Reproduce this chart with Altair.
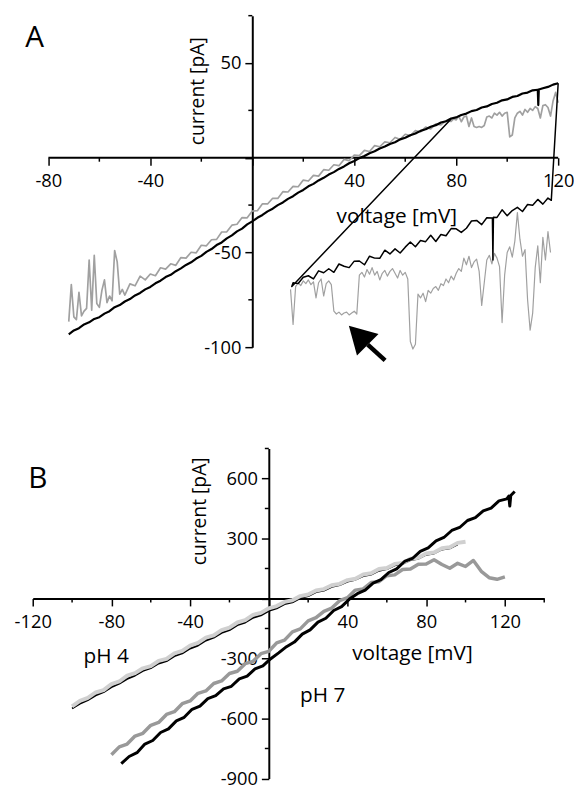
import altair as alt
import pandas as pd

FONT = "Open Sans"

# ======================= Panel A =======================
A_AXIS_X_RANGE = [-80, 120]        # extent of the drawn voltage axis
A_X_SCALE = [-86.134, 120]         # scale domain (a little room left of -80)
A_Y_DOMAIN = [-100, 75]
A_X_MAJOR = [-80, -40, 0, 40, 80, 120]
A_X_MINOR = [-60, -20, 20, 60, 100]
A_Y_MAJOR = [-100, -50, 0, 50]
A_Y_MINOR = [-75, -25, 25, 75]

# black trace, ramp upward
A_BLACK_UP_V = [-72, -70, -68, -66, -64, -62, -60, -58, -56, -54, -52, -50, -48, -46, -44, -42,
                -40, -38, -36, -34, -32, -30, -28, -26, -24, -22, -20, -18, -16, -14, -12, -10,
                -8, -6, -4, -2, 0, 2, 4, 6, 8, 10, 12, 14, 16, 18, 20, 22, 24, 26, 28, 30,
                32, 34, 36, 38, 40, 42, 44, 46, 48, 50, 52, 54, 56, 58, 60, 62, 64, 66, 68, 70,
                72, 74, 76, 78, 80, 82, 84, 86, 88, 90, 92, 94, 96, 98, 100, 102, 104, 106, 108,
                110, 112, 112.2, 112.4, 114, 116, 118, 120]
A_BLACK_UP_I = [-93.2, -91.2, -90.0, -88.0, -86.9, -85.1, -84.2, -82.3, -81.0, -78.9, -77.8, -75.9,
                -74.6, -72.7, -71.4, -69.5, -68.2, -66.3, -64.9, -63.0, -61.8, -59.9, -58.4, -56.6,
                -55.2, -53.2, -51.8, -49.7, -48.2, -46.1, -44.7, -42.6, -41.0, -38.9, -37.4, -35.2,
                -33.6, -31.7, -30.2, -28.3, -26.9, -25.0, -23.6, -21.7, -20.3, -18.4, -17.0, -15.1,
                -13.8, -12.0, -10.6, -8.9, -7.6, -5.9, -4.6, -2.9, -1.7, -0.2, 0.9, 2.4, 3.4, 4.9,
                5.9, 7.3, 8.2, 9.7, 10.6, 11.9, 12.8, 14.2, 15.0, 16.4, 17.2, 18.6, 19.3, 20.7,
                21.3, 22.6, 23.3, 24.6, 25.2, 26.5, 27.1, 28.4, 29.0, 30.3, 30.8, 32.1, 32.6, 33.9,
                34.4, 35.6, 35.9, 27.8, 36.0, 36.7, 37.4, 38.6, 39.3]

# black trace after the turn: drop, ramp back down, jump
A_BLACK_RET_V = [120, 117.3, 116, 114, 112, 110, 108, 106, 104, 102, 100, 98, 96, 94.6, 94.4, 94.2,
                 92, 90, 88, 86, 84, 82, 80, 78, 76, 74, 72, 70, 68, 66, 64, 62, 60, 58, 56, 54,
                 52, 50, 48, 46, 44, 42, 40, 38, 36, 34, 32, 30, 28, 26, 24, 22, 20, 18, 16,
                 15.5, 78]
A_BLACK_RET_I = [39.3, -22.5, -21.3, -24.5, -22.0, -25.1, -24.7, -28.4, -26.2, -27.9, -30.6, -27.5,
                 -31.5, -31.4, -54.0, -31.8, -31.7, -35.3, -33.1, -33.4, -37.2, -39.4, -37.5, -37.4,
                 -41.2, -40.5, -44.2, -40.9, -44.3, -43.7, -47.0, -44.5, -47.2, -50.3, -48.1, -50.8,
                 -48.8, -53.1, -53.0, -52.0, -56.5, -54.5, -54.6, -58.0, -57.3, -56.1, -60.5, -58.6,
                 -60.7, -59.7, -64.0, -62.3, -63.1, -66.4, -66.0, -68.0, 20.5]

# grey trace, ramp upward
A_GRAY_UP_V = [-72, -71, -70, -69, -68, -67, -66, -65, -64, -63, -62, -61, -60, -59, -58, -57, -56,
               -55, -54, -53, -52, -51, -50,
               -48, -46, -44, -42, -40, -38, -36, -34, -32, -30, -28, -26, -24, -22, -20, -18, -16,
               -14, -12, -10, -8, -6, -4, -2, 0, 2, 4, 6, 8, 10, 12, 14, 16, 18, 20, 22, 24, 26,
               28, 30, 32, 34, 36, 38, 40, 42, 44, 46, 48, 50, 52, 54, 56, 58, 60, 62, 64, 66, 68,
               70, 72, 74, 76, 78,
               79, 80, 81, 82, 83, 84, 85, 86, 87, 88, 89, 90, 91, 92, 93, 94, 95, 96, 97, 98, 99,
               100, 101, 102, 103, 104, 105, 106, 107, 108, 109, 110, 111, 112, 113, 114, 115, 116,
               117, 118, 119, 120]
A_GRAY_UP_I = [-86.5, -67, -84, -85.5, -71, -83.5, -81, -79.5, -54, -80.5, -51.5, -77, -79, -70,
               -64.5, -76.5, -73, -75.5, -49, -55, -72, -69.5, -72.5,
               -66.6, -67.6, -62.5, -64.5, -61.4, -62.3, -58.1, -58.8, -56.0, -56.8, -52.7, -53.0,
               -49.9, -50.2, -46.2, -46.5, -43.3, -43.1, -39.2, -39.1, -35.6, -35.1, -31.6, -31.7,
               -28.1, -28.0, -24.3, -24.4, -21.4, -21.5, -17.9, -18.1, -15.1, -15.3, -11.8, -12.3,
               -9.3, -9.7, -6.3, -6.6, -3.7, -4.2, -0.9, -1.5, 1.4, 1.1, 3.9, 3.3, 6.4, 5.8, 8.4,
               7.9, 10.7, 9.7, 12.4, 11.7, 14.3, 13.6, 16.2, 15.2, 17.9, 17.3, 19.5, 19.2,
               20.5, 20.0, 22.0, 19.0, 21.5, 22.0, 16.5, 21.0, 16.5, 16.0, 16.5, 16.0, 17.0, 21.5,
               22.0, 21.0, 23.5, 22.5, 24.0, 22.0, 23.5, 24.0, 11.0, 12.0, 21.0, 23.5, 24.5, 22.5,
               25.5, 24.0, 26.0, 25.0, 27.0, 26.0, 21.0, 27.5, 28.0, 26.5, 22.0, 30.0, 34.5, 29.0]

# grey trace, ramp back down (lower branch with channel closures)
A_GRAY_RET_V = [15, 16, 17, 18, 19, 20, 21, 22, 23, 24, 25, 26, 27, 28, 29, 30, 31, 32, 33, 34, 35,
                36, 37, 38, 39, 40, 41, 42, 43, 44, 45, 46, 47, 48, 49, 50, 51, 52, 53, 54, 55, 56,
                57, 58, 59, 60, 61, 62, 63, 64, 65, 66, 67, 68, 69, 70, 71, 72, 73, 74, 75, 76, 77,
                78, 79, 80, 81, 82, 83, 84, 85, 86, 87, 88, 89, 90, 91, 92, 93, 94, 95, 96, 97, 98,
                99, 100, 101, 102, 103, 104, 105, 106, 107, 108, 109, 110, 111, 112, 113, 114, 115,
                116, 117]
A_GRAY_RET_I = [-69.5, -88, -68, -66, -67.5, -65, -66.5, -64.5, -67, -65.5, -74, -66, -64, -73, -66.5,
                -65, -67, -81, -82.5, -81.5, -83, -82, -81.5, -83, -82, -81, -82.5, -62, -60.5, -63,
                -59, -61.5, -58, -62, -60, -64.5, -61, -59.5, -62.5, -60, -58.5, -61, -63.5, -59.5,
                -62, -60.5, -64, -97, -101, -98.5, -72, -74, -71.5, -76, -70, -71.5, -69, -68, -70,
                -66.5, -67.5, -64, -66, -62.5, -64.5, -61, -58.5, -60, -53, -56.5, -52, -58, -55,
                -53.5, -60, -78, -66, -54, -51.5, -56, -50.5, -53, -57.5, -87, -62, -50, -47, -52.5,
                -44, -29, -43, -52, -48.5, -75, -91, -82, -58, -46.5, -66, -42, -54, -39, -50]

# arrow annotation (data coordinates): shaft from head base to tail
A_ARROW_BASE_V = [45.3]
A_ARROW_BASE_I = [-98.7]
A_ARROW_TAIL_V = [52.1]
A_ARROW_TAIL_I = [-107.0]

# panel letter anchor (data coordinates: left edge / baseline)
A_LETTER = ["A"]
A_LETTER_V = [-89.1]
A_LETTER_I = [58.5]

# ======================= Panel B =======================
B_AXIS_X_RANGE = [-120, 140]
B_X_SCALE = [-120, 140]
B_Y_DOMAIN = [-900, 750]
B_X_MAJOR = [-120, -80, -40, 0, 40, 80, 120]
B_X_MINOR = [-100, -60, -20, 20, 60, 100, 140]
B_Y_MAJOR = [-900, -600, -300, 0, 300, 600]
B_Y_MINOR = [-750, -450, -150, 150, 450, 750]

B_PH4_LIGHT_V = [-100, -96, -92, -88, -84, -80, -76, -72, -68, -64, -60, -56, -52, -48, -44, -40,
                 -36, -32, -28, -24, -20, -16, -12, -8, -4, 0, 4, 8, 12, 16, 20, 24, 28, 32, 36,
                 40, 44, 48, 52, 56, 60, 64, 68, 72, 76, 80, 84, 88, 92, 96, 100]
B_PH4_LIGHT_I = [-540, -512, -497, -470, -458, -428, -415, -386, -373, -349, -338, -312, -302, -275,
                 -262, -236, -222, -196, -184, -158, -146, -120, -108, -82, -72, -49, -38, -17, -9,
                 12, 20, 40, 47, 66, 73, 92, 99, 120, 126, 147, 152, 173, 178, 199, 204, 225, 230,
                 251, 256, 278, 284]

B_PH4_BLACK_V = [-100, -96, -92, -88, -84, -80, -76, -72, -68, -64, -60, -56, -52, -48, -44, -40,
                 -36, -32, -28, -24, -20, -16, -12, -8, -4, 0, 4, 8, 12, 16, 20, 24, 28, 32, 36,
                 40, 44, 48, 52, 56, 60, 64, 68, 72, 76, 80, 84, 88, 92, 96]
B_PH4_BLACK_I = [-550, -526, -508, -484, -468, -443, -426, -402, -385, -362, -348, -325, -313, -288,
                 -274, -250, -235, -210, -196, -172, -158, -133, -120, -96, -84, -62, -49, -28, -19,
                 2, 12, 32, 40, 58, 67, 85, 94, 112, 120, 139, 147, 166, 173, 192, 199, 219, 225,
                 245, 251, 271]

B_PH7_GREY_V = [-80, -76, -72, -68, -64, -60, -56, -52, -48, -44, -40, -36, -32, -28, -24, -20, -16,
                -12, -8, -4, 0, 4, 8, 12, 16, 20, 24, 28, 32, 36, 40, 44, 48, 52, 56, 60, 64, 68,
                72, 76, 80, 84, 88, 92, 96, 100, 104, 108, 112, 116, 120]
B_PH7_GREY_I = [-781, -742, -728, -688, -674, -634, -620, -580, -566, -526, -512, -474, -462, -425,
                -412, -375, -364, -326, -314, -276, -264, -222, -208, -167, -152, -112, -96, -64, -48,
                -11, 4, 42, 48, 80, 84, 114, 118, 145, 147, 171, 172, 194, 170, 151, 176, 160, 190,
                136, 104, 96, 108]

B_PH7_BLACK_V = [-75, -71, -67, -63, -59, -55, -51, -47, -43, -39, -35, -31, -27, -23, -19, -15, -11,
                 -7, -3, 1, 5, 9, 13, 17, 21, 25, 29, 33, 37, 41, 45, 49, 53, 57, 61, 65, 69, 73,
                 77, 81, 85, 89, 93, 97, 101, 105, 109, 113, 117, 121, 122, 122.5, 123, 125]
B_PH7_BLACK_I = [-826, -790, -771, -728, -710, -670, -652, -612, -594, -554, -538, -501, -486, -452,
                 -439, -402, -388, -352, -337, -301, -272, -241, -218, -178, -157, -118, -99, -60,
                 -41, -3, 24, 42, 77, 94, 130, 148, 185, 200, 236, 253, 288, 305, 340, 355, 390,
                 404, 438, 452, 488, 498, 512, 462, 515, 535]

B_LABELS = ["pH 4", "pH 7"]
B_LABEL_V = [-82.7, 27.4]
B_LABEL_I = [-292, -490]

B_LETTER = ["B"]
B_LETTER_V = [-122.3]
B_LETTER_I = [551.7]


# ======================= helpers =======================
def trace_df(v, i):
    assert len(v) == len(i), (len(v), len(i))
    return pd.DataFrame({"v": v, "i": i, "k": list(range(len(v)))})


def common_axis(values, title_size):
    return dict(
        values=values,
        labelExpr="datum.value === 0 ? '' : '' + datum.value",
        labelFont=FONT, labelFontSize=18.5, labelColor="black", labelFlush=False,
        labelOverlap=False, labelAngle=0,
        tickSize=7.5, tickWidth=1.5, tickColor="black",
        domainColor="black", domainWidth=2, grid=False,
        titleFont=FONT, titleFontSize=title_size, titleFontWeight="normal", titleColor="black",
        titleAlign="center", titleBaseline="middle", titlePadding=0,
    )


def panel(traces, xscale_dom, xline, ydom, w, h, xmajor, xminor, ymajor, yminor,
          xtitle_xy, ytitle_xy, left_extent, bottom_extent, letter, extra_layers_fn=None):
    xs = alt.Scale(domain=xscale_dom, nice=False, zero=False)
    ys = alt.Scale(domain=ydom, nice=False, zero=False)
    x_axis_off = -(0 - ydom[0]) / (ydom[1] - ydom[0]) * h
    y_axis_off = -(0 - xscale_dom[0]) / (xscale_dom[1] - xscale_dom[0]) * w
    own_line = list(xline) != list(xscale_dom)

    xkw = common_axis(xmajor, 21)
    xkw.update(orient="bottom", offset=x_axis_off, title="voltage [mV]",
               titleX=xtitle_xy[0], titleY=xtitle_xy[1], titleAngle=0, labelPadding=6.5,
               domain=not own_line)
    if bottom_extent is not None:
        xkw.update(minExtent=bottom_extent, maxExtent=bottom_extent)
    ykw = common_axis(ymajor, 19.5)
    ykw.update(orient="left", offset=y_axis_off, title="current [pA]",
               titleX=ytitle_xy[0], titleY=ytitle_xy[1], titleAngle=270, labelPadding=4,
               minExtent=-y_axis_off + left_extent, maxExtent=-y_axis_off + left_extent)
    xa = alt.Axis(**xkw)
    ya = alt.Axis(**ykw)

    def X(f):
        return alt.X(f, scale=xs, axis=xa)

    def Y(f):
        return alt.Y(f, scale=ys, axis=ya)

    layers = []
    if own_line:
        line_df = pd.DataFrame({"v0": [xline[0]], "v1": [xline[1]], "i": [0]})
        layers.append(alt.Chart(line_df).mark_rule(color="black", strokeWidth=2).encode(
            x=X("v0:Q"), x2="v1:Q", y=Y("i:Q")))

    for v, i, color, sw in traces:
        layers.append(
            alt.Chart(trace_df(v, i)).mark_line(color=color, strokeWidth=sw, strokeJoin="round",
                                                 strokeCap="butt", clip=False).encode(
                x=X("v:Q"), y=Y("i:Q"), order=alt.Order("k:Q"))
        )

    # minor ticks, hanging below / left of the crossing axes
    xminor_df = pd.DataFrame({"v": xminor, "i": [0] * len(xminor)})
    yminor_df = pd.DataFrame({"v": [0] * len(yminor), "i": yminor})
    layers.append(alt.Chart(xminor_df).mark_tick(orient="vertical", size=4, thickness=1.5,
                                                 color="black", yOffset=2, opacity=1).encode(
        x=X("v:Q"), y=Y("i:Q")))
    layers.append(alt.Chart(yminor_df).mark_tick(orient="horizontal", size=4, thickness=1.5,
                                                 color="black", xOffset=-2, opacity=1).encode(
        x=X("v:Q"), y=Y("i:Q")))

    # panel letter
    let_df = pd.DataFrame({"t": letter[0], "v": letter[1], "i": letter[2]})
    layers.append(alt.Chart(let_df).mark_text(font=FONT, fontSize=30, color="black",
                                              align="left", baseline="alphabetic").encode(
        x=X("v:Q"), y=Y("i:Q"), text="t:N"))

    if extra_layers_fn is not None:
        layers += extra_layers_fn(X, Y)

    return alt.layer(*layers).properties(width=w, height=h)


def arrow_layers(X, Y):
    df = pd.DataFrame({"v0": A_ARROW_BASE_V, "i0": A_ARROW_BASE_I,
                       "v1": A_ARROW_TAIL_V, "i1": A_ARROW_TAIL_I})
    shaft = alt.Chart(df).mark_rule(color="black", strokeWidth=4.5, strokeCap="butt").encode(
        x=X("v0:Q"), y=Y("i0:Q"), x2="v1:Q", y2="i1:Q")
    head = alt.Chart(df).mark_point(shape="M0,-1L0.57,0L-0.57,0Z", filled=True, size=2916,
                                    angle=315, color="black", opacity=1, strokeWidth=0).encode(
        x=X("v0:Q"), y=Y("i0:Q"))
    return [shaft, head]


def ph_labels(X, Y):
    df = pd.DataFrame({"t": B_LABELS, "v": B_LABEL_V, "i": B_LABEL_I})
    return [alt.Chart(df).mark_text(font=FONT, fontSize=21, color="black", align="center",
                                    baseline="middle").encode(
        x=X("v:Q"), y=Y("i:Q"), text="t:N")]


GREY_A = "#a0a0a0"
chart_a = panel(
    traces=[
        (A_GRAY_UP_V, A_GRAY_UP_I, GREY_A, 1.7),
        (A_GRAY_RET_V, A_GRAY_RET_I, GREY_A, 1.2),
        (A_BLACK_UP_V, A_BLACK_UP_I, "black", 2.2),
        (A_BLACK_RET_V, A_BLACK_RET_I, "black", 1.5),
    ],
    xscale_dom=A_X_SCALE, xline=A_AXIS_X_RANGE, ydom=A_Y_DOMAIN, w=531.0, h=335,
    xmajor=A_X_MAJOR, xminor=A_X_MINOR, ymajor=A_Y_MAJOR, yminor=A_Y_MINOR,
    xtitle_xy=(367.5, 59.1), ytitle_xy=(-55.8, 75.9),
    left_extent=19.5, bottom_extent=215,
    letter=(A_LETTER, A_LETTER_V, A_LETTER_I),
    extra_layers_fn=arrow_layers,
)

chart_b = panel(
    traces=[
        (B_PH4_BLACK_V, B_PH4_BLACK_I, "black", 2.0),
        (B_PH4_LIGHT_V, B_PH4_LIGHT_I, "#d0d0d0", 4.0),
        (B_PH7_GREY_V, B_PH7_GREY_I, "#999999", 3.5),
        (B_PH7_BLACK_V, B_PH7_BLACK_I, "black", 3.0),
    ],
    xscale_dom=B_X_SCALE, xline=B_AXIS_X_RANGE, ydom=B_Y_DOMAIN, w=516.9, h=333.5,
    xmajor=B_X_MAJOR, xminor=B_X_MINOR, ymajor=B_Y_MAJOR, yminor=B_Y_MINOR,
    xtitle_xy=(383.2, 55.7), ytitle_xy=(-69.6, 63.0),
    left_extent=19.5, bottom_extent=None,
    letter=(B_LETTER, B_LETTER_V, B_LETTER_I),
    extra_layers_fn=ph_labels,
)

chart = alt.vconcat(chart_a, chart_b, spacing=77.4).properties(
    padding={"left": 5, "top": 2.6, "right": 0, "bottom": 0},
    background="white",
).configure_view(stroke=None)

chart.save("out.html", embed_options={"renderer": "svg", "actions": False})
